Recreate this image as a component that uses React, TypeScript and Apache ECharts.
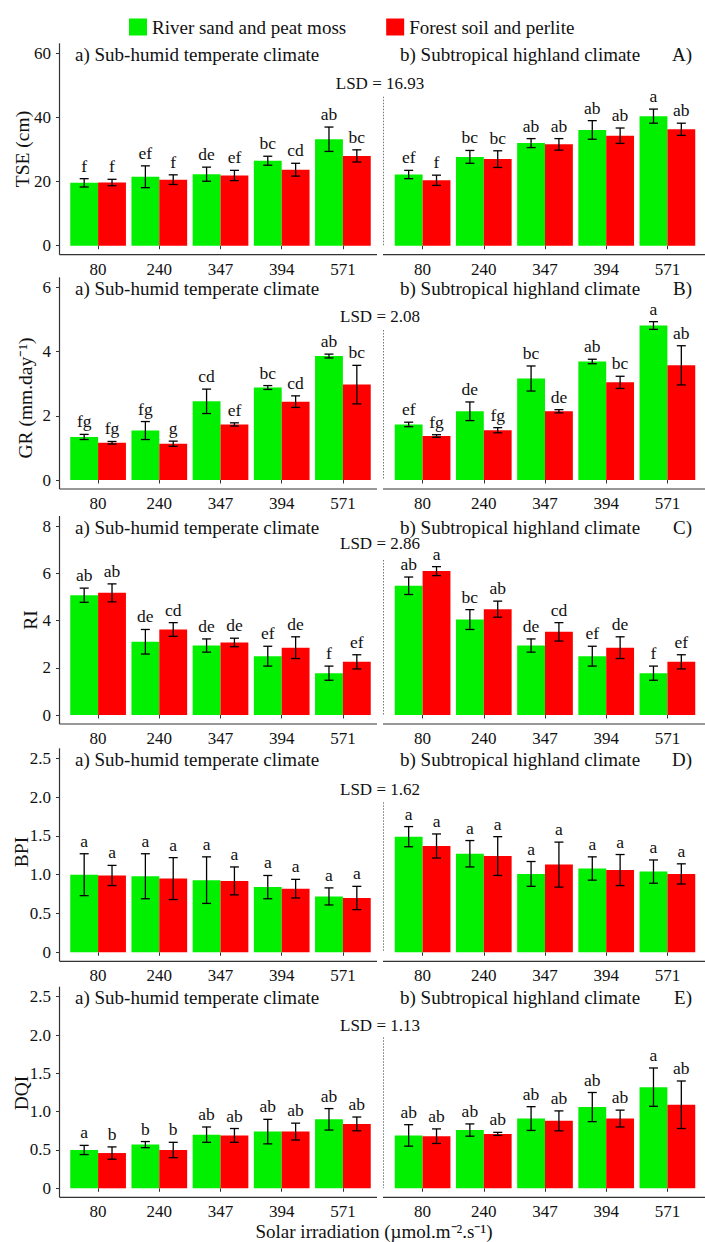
import React, { useEffect, useRef } from "react";
import * as echarts from "echarts";

// ---------- data ----------
const CATEGORIES = ["80", "240", "347", "394", "571"];
const SERIES_NAMES = ["River sand and peat moss", "Forest soil and perlite"];
const ROW_TAGS = ["A)", "B)", "C)", "D)", "E)"];
const Y_TITLES = ["TSE (cm)", "GR (mm.day\u207B\u00B9)", "RI", "BPI", "DQI"];
const LSD_VALUES = ["16.93", "2.08", "2.86", "1.62", "1.13"];
const Y_MAX = [60, 6, 8, 2.5, 2.5];
const Y_INTERVAL = [20, 2, 2, 0.5, 0.5];
const PANEL_TITLES = ["a) Sub-humid temperate climate", "b) Subtropical highland climate"];
const X_TITLE = "Solar irradiation (\u00B5mol.m\u207B\u00B2.s\u207B\u00B9)";

// TSE
const TSE_TEMP_GREEN = [19.6, 21.5, 22.3, 26.5, 33.2];
const TSE_TEMP_GREEN_SE = [1.3, 3.4, 2.2, 1.4, 3.8];
const TSE_TEMP_GREEN_LET = ["f", "ef", "de", "bc", "ab"];
const TSE_TEMP_RED = [19.7, 20.6, 21.9, 23.7, 28.0];
const TSE_TEMP_RED_SE = [1.0, 1.5, 1.6, 2.0, 1.9];
const TSE_TEMP_RED_LET = ["f", "f", "ef", "cd", "bc"];
const TSE_SUB_GREEN = [22.2, 27.7, 32.0, 36.1, 40.4];
const TSE_SUB_GREEN_SE = [1.3, 2.0, 1.4, 2.9, 2.2];
const TSE_SUB_GREEN_LET = ["ef", "bc", "ab", "ab", "a"];
const TSE_SUB_RED = [20.4, 27.0, 31.6, 34.3, 36.3];
const TSE_SUB_RED_SE = [1.6, 2.6, 1.8, 2.4, 1.9];
const TSE_SUB_RED_LET = ["f", "bc", "ab", "ab", "ab"];

// GR
const GR_TEMP_GREEN = [1.34, 1.54, 2.45, 2.88, 3.86];
const GR_TEMP_GREEN_SE = [0.08, 0.28, 0.38, 0.06, 0.06];
const GR_TEMP_GREEN_LET = ["fg", "fg", "cd", "bc", "ab"];
const GR_TEMP_RED = [1.16, 1.13, 1.73, 2.44, 2.97];
const GR_TEMP_RED_SE = [0.04, 0.08, 0.05, 0.18, 0.6];
const GR_TEMP_RED_LET = ["fg", "g", "ef", "cd", "bc"];
const GR_SUB_GREEN = [1.73, 2.14, 3.16, 3.69, 4.81];
const GR_SUB_GREEN_SE = [0.07, 0.29, 0.39, 0.07, 0.12];
const GR_SUB_GREEN_LET = ["ef", "de", "bc", "ab", "a"];
const GR_SUB_RED = [1.37, 1.55, 2.14, 3.04, 3.57];
const GR_SUB_RED_SE = [0.04, 0.08, 0.05, 0.19, 0.61];
const GR_SUB_RED_LET = ["fg", "fg", "de", "bc", "ab"];

// RI
const RI_TEMP_GREEN = [5.07, 3.1, 2.94, 2.49, 1.77];
const RI_TEMP_GREEN_SE = [0.3, 0.52, 0.28, 0.42, 0.3];
const RI_TEMP_GREEN_LET = ["ab", "de", "de", "ef", "f"];
const RI_TEMP_RED = [5.17, 3.62, 3.07, 2.85, 2.25];
const RI_TEMP_RED_SE = [0.38, 0.29, 0.18, 0.46, 0.3];
const RI_TEMP_RED_LET = ["ab", "cd", "de", "de", "ef"];
const RI_SUB_GREEN = [5.47, 4.04, 2.94, 2.49, 1.77];
const RI_SUB_GREEN_SE = [0.37, 0.42, 0.28, 0.42, 0.3];
const RI_SUB_GREEN_LET = ["ab", "bc", "de", "ef", "f"];
const RI_SUB_RED = [6.09, 4.48, 3.52, 2.85, 2.25];
const RI_SUB_RED_SE = [0.19, 0.34, 0.39, 0.46, 0.3];
const RI_SUB_RED_LET = ["a", "ab", "cd", "de", "ef"];

// BPI
const BPI_TEMP_GREEN = [1.0, 0.98, 0.93, 0.84, 0.72];
const BPI_TEMP_GREEN_SE = [0.27, 0.29, 0.3, 0.15, 0.11];
const BPI_TEMP_GREEN_LET = ["a", "a", "a", "a", "a"];
const BPI_TEMP_RED = [0.99, 0.95, 0.92, 0.82, 0.7];
const BPI_TEMP_RED_SE = [0.13, 0.27, 0.18, 0.12, 0.15];
const BPI_TEMP_RED_LET = ["a", "a", "a", "a", "a"];
const BPI_SUB_GREEN = [1.49, 1.27, 1.01, 1.08, 1.04];
const BPI_SUB_GREEN_SE = [0.13, 0.17, 0.16, 0.15, 0.15];
const BPI_SUB_GREEN_LET = ["a", "a", "a", "a", "a"];
const BPI_SUB_RED = [1.37, 1.24, 1.13, 1.06, 1.01];
const BPI_SUB_RED_SE = [0.155, 0.25, 0.29, 0.2, 0.13];
const BPI_SUB_RED_LET = ["a", "a", "a", "a", "a"];

// DQI
const DQI_TEMP_GREEN = [0.5, 0.57, 0.7, 0.74, 0.9];
const DQI_TEMP_GREEN_SE = [0.06, 0.04, 0.1, 0.16, 0.14];
const DQI_TEMP_GREEN_LET = ["a", "b", "ab", "ab", "ab"];
const DQI_TEMP_RED = [0.46, 0.5, 0.69, 0.74, 0.84];
const DQI_TEMP_RED_SE = [0.08, 0.1, 0.09, 0.11, 0.09];
const DQI_TEMP_RED_LET = ["b", "b", "ab", "ab", "ab"];
const DQI_SUB_GREEN = [0.69, 0.76, 0.91, 1.06, 1.32];
const DQI_SUB_GREEN_SE = [0.14, 0.08, 0.155, 0.19, 0.25];
const DQI_SUB_GREEN_LET = ["ab", "ab", "ab", "ab", "a"];
const DQI_SUB_RED = [0.68, 0.71, 0.88, 0.91, 1.09];
const DQI_SUB_RED_SE = [0.095, 0.02, 0.13, 0.11, 0.31];
const DQI_SUB_RED_LET = ["ab", "ab", "ab", "ab", "ab"];

// rows -> panels -> [green, red]
const ROWS = [
  [
    [[TSE_TEMP_GREEN, TSE_TEMP_GREEN_SE, TSE_TEMP_GREEN_LET], [TSE_TEMP_RED, TSE_TEMP_RED_SE, TSE_TEMP_RED_LET]],
    [[TSE_SUB_GREEN, TSE_SUB_GREEN_SE, TSE_SUB_GREEN_LET], [TSE_SUB_RED, TSE_SUB_RED_SE, TSE_SUB_RED_LET]],
  ],
  [
    [[GR_TEMP_GREEN, GR_TEMP_GREEN_SE, GR_TEMP_GREEN_LET], [GR_TEMP_RED, GR_TEMP_RED_SE, GR_TEMP_RED_LET]],
    [[GR_SUB_GREEN, GR_SUB_GREEN_SE, GR_SUB_GREEN_LET], [GR_SUB_RED, GR_SUB_RED_SE, GR_SUB_RED_LET]],
  ],
  [
    [[RI_TEMP_GREEN, RI_TEMP_GREEN_SE, RI_TEMP_GREEN_LET], [RI_TEMP_RED, RI_TEMP_RED_SE, RI_TEMP_RED_LET]],
    [[RI_SUB_GREEN, RI_SUB_GREEN_SE, RI_SUB_GREEN_LET], [RI_SUB_RED, RI_SUB_RED_SE, RI_SUB_RED_LET]],
  ],
  [
    [[BPI_TEMP_GREEN, BPI_TEMP_GREEN_SE, BPI_TEMP_GREEN_LET], [BPI_TEMP_RED, BPI_TEMP_RED_SE, BPI_TEMP_RED_LET]],
    [[BPI_SUB_GREEN, BPI_SUB_GREEN_SE, BPI_SUB_GREEN_LET], [BPI_SUB_RED, BPI_SUB_RED_SE, BPI_SUB_RED_LET]],
  ],
  [
    [[DQI_TEMP_GREEN, DQI_TEMP_GREEN_SE, DQI_TEMP_GREEN_LET], [DQI_TEMP_RED, DQI_TEMP_RED_SE, DQI_TEMP_RED_LET]],
    [[DQI_SUB_GREEN, DQI_SUB_GREEN_SE, DQI_SUB_GREEN_LET], [DQI_SUB_RED, DQI_SUB_RED_SE, DQI_SUB_RED_LET]],
  ],
];

// ---------- layout / style ----------
const FONT = "'Liberation Serif', 'Times New Roman', serif";
const COLORS = ["#00F000", "#FF0000"];
const INK = "#111111";
const AXIS = "#333333";
const ZERO_Y = [245.7, 480, 715, 952.3, 1188.3];
const TOP_Y = [53.3, 287.3, 526, 758.3, 996.7];
const YTITLE_X = [22, 25, 30, 21, 21];
const YTITLE_CY = [149, 398, 620, 852, 1093];
const LSD_DY = [30, 29.5, 17.5, 31.5, 28.5];
const DOT_H = [149, 150, 155, 150, 151];
const GRID_LEFT = [67.5, 392];
const GRID_W = 306;
const BAR_FILL = 0.91;

function buildOption() {
  const grid: any[] = [];
  const xAxis: any[] = [];
  const yAxis: any[] = [];
  const series: any[] = [];
  const graphic: any[] = [];

  ROWS.forEach((row, r) => {
    const top = TOP_Y[r];
    const zero = ZERO_Y[r];
    row.forEach((panel, p) => {
      const gi = grid.length;
      grid.push({
        left: GRID_LEFT[p],
        top,
        width: GRID_W,
        height: zero - top,
        containLabel: false,
        outerBoundsMode: "none",
      });
      xAxis.push({
        type: "category",
        gridIndex: gi,
        data: CATEGORIES,
        offset: 9,
        axisLine: { show: false },
        axisTick: { show: true, alignWithLabel: true, length: 3.5, lineStyle: { color: AXIS, width: 1 } },
        axisLabel: { fontSize: 17, fontFamily: FONT, color: INK, margin: 6, interval: 0 },
        splitLine: { show: false },
      });
      yAxis.push({
        type: "value",
        gridIndex: gi,
        min: 0,
        max: Y_MAX[r],
        interval: Y_INTERVAL[r],
        show: p === 0,
        offset: 8,
        axisLine: { show: false },
        axisTick: { show: true, length: 3.5, lineStyle: { color: AXIS, width: 1 } },
        axisLabel: {
          fontSize: 17,
          fontFamily: FONT,
          color: INK,
          margin: 8.5,
          formatter: (v: number) => (Y_INTERVAL[r] < 1 ? (v === 0 ? "0" : v.toFixed(1)) : String(v)),
        },
        splitLine: { show: false },
      });
      panel.forEach((s, k) => {
        const [means] = s as any;
        series.push({
          type: "bar",
          name: SERIES_NAMES[k],
          xAxisIndex: gi,
          yAxisIndex: gi,
          data: means,
          barGap: "0%",
          barCategoryGap: "9%",
          itemStyle: { color: COLORS[k] },
          z: 2,
        });
      });
      panel.forEach((s, k) => {
        const [means, ses, lets] = s as any;
        const sign = k === 0 ? -1 : 1;
        series.push({
          type: "custom",
          name: "err" + gi + "_" + k,
          xAxisIndex: gi,
          yAxisIndex: gi,
          z: 5,
          clip: false,
          data: means.map((m: number, i: number) => [i, m, ses[i]]),
          encode: { x: 0, y: 1 },
          renderItem: (params: any, api: any) => {
            const i = api.value(0);
            const m = api.value(1);
            const se = api.value(2);
            const c = api.coord([i, m]);
            const band = api.size([1, 0])[0];
            const x = c[0] + (sign * band * BAR_FILL) / 4;
            const yt = api.coord([i, m + se])[1];
            const yb = api.coord([i, m - se])[1];
            const hw = 4.5;
            const ls = { stroke: "#000", lineWidth: 1.3 };
            const label = lets[params.dataIndex];
            return {
              type: "group",
              children: [
                { type: "line", shape: { x1: x, y1: yt, x2: x, y2: yb }, style: ls },
                { type: "line", shape: { x1: x - hw, y1: yt, x2: x + hw, y2: yt }, style: ls },
                { type: "line", shape: { x1: x - hw, y1: yb, x2: x + hw, y2: yb }, style: ls },
                {
                  type: "text",
                  x,
                  y: yt - 4,
                  style: {
                    text: label,
                    fontSize: 17.5,
                    fontFamily: FONT,
                    fill: INK,
                    align: "center",
                    verticalAlign: "bottom",
                    textAlign: "center",
                    textVerticalAlign: "bottom",
                  },
                },
              ],
            };
          },
        });
      });
    });

    // axis lines
    const axisY = zero + 9;
    graphic.push({ type: "line", shape: { x1: 59.5, y1: top - 10, x2: 59.5, y2: axisY }, style: { stroke: AXIS, lineWidth: 1.2 } });
    graphic.push({ type: "line", shape: { x1: 59.5, y1: axisY, x2: 377, y2: axisY }, style: { stroke: AXIS, lineWidth: 1.2 } });
    graphic.push({ type: "line", shape: { x1: 383, y1: axisY, x2: 705, y2: axisY }, style: { stroke: AXIS, lineWidth: 1.2 } });
    // dotted separator
    graphic.push({
      type: "line",
      shape: { x1: 383.5, y1: zero - DOT_H[r], x2: 383.5, y2: zero },
      style: { stroke: "#777", lineWidth: 1, lineDash: [1.5, 1.5] },
    });
    // panel titles
    graphic.push({
      type: "text",
      x: 75,
      y: top + 1,
      style: { text: PANEL_TITLES[0], fontSize: 19, fontFamily: FONT, fill: INK, align: "left", verticalAlign: "middle", textAlign: "left", textVerticalAlign: "middle" },
    });
    graphic.push({
      type: "text",
      x: 400,
      y: top + 1,
      style: { text: PANEL_TITLES[1], fontSize: 19, fontFamily: FONT, fill: INK, align: "left", verticalAlign: "middle", textAlign: "left", textVerticalAlign: "middle" },
    });
    graphic.push({
      type: "text",
      x: 692,
      y: top + 1,
      style: { text: ROW_TAGS[r], fontSize: 19, fontFamily: FONT, fill: INK, align: "right", verticalAlign: "middle", textAlign: "right", textVerticalAlign: "middle" },
    });
    graphic.push({
      type: "text",
      x: 380,
      y: top + LSD_DY[r],
      style: { text: "LSD = " + LSD_VALUES[r], fontSize: 17, fontFamily: FONT, fill: INK, align: "center", verticalAlign: "middle", textAlign: "center", textVerticalAlign: "middle" },
    });
    graphic.push({
      type: "text",
      x: YTITLE_X[r],
      y: YTITLE_CY[r],
      rotation: Math.PI / 2,
      style: { text: Y_TITLES[r], fontSize: 19.5, fontFamily: FONT, fill: INK, align: "center", verticalAlign: "middle", textAlign: "center", textVerticalAlign: "middle" },
    });
  });

  graphic.push({
    type: "text",
    x: 374,
    y: 1231,
    style: { text: X_TITLE, fontSize: 19, fontFamily: FONT, fill: INK, align: "center", verticalAlign: "middle", textAlign: "center", textVerticalAlign: "middle" },
  });

  return {
    animation: false,
    backgroundColor: "#ffffff",
    legend: {
      left: 124,
      top: 12.5,
      itemWidth: 18,
      itemHeight: 17,
      itemGap: 40,
      icon: "rect",
      data: SERIES_NAMES,
      selectedMode: false,
      textStyle: { fontSize: 19, fontFamily: FONT, color: INK },
    },
    grid,
    xAxis,
    yAxis,
    series,
    graphic,
  };
}

export default function App() {
  const ref = useRef<HTMLDivElement>(null);
  useEffect(() => {
    if (!ref.current) return;
    const chart = echarts.init(ref.current, null, { renderer: "svg" });
    chart.setOption(buildOption() as any);
    return () => chart.dispose();
  }, []);
  return (
    <div
      ref={ref}
      style={{ position: "absolute", left: 0, top: 0, width: 705, height: 1242, background: "#fff" }}
    />
  );
}
